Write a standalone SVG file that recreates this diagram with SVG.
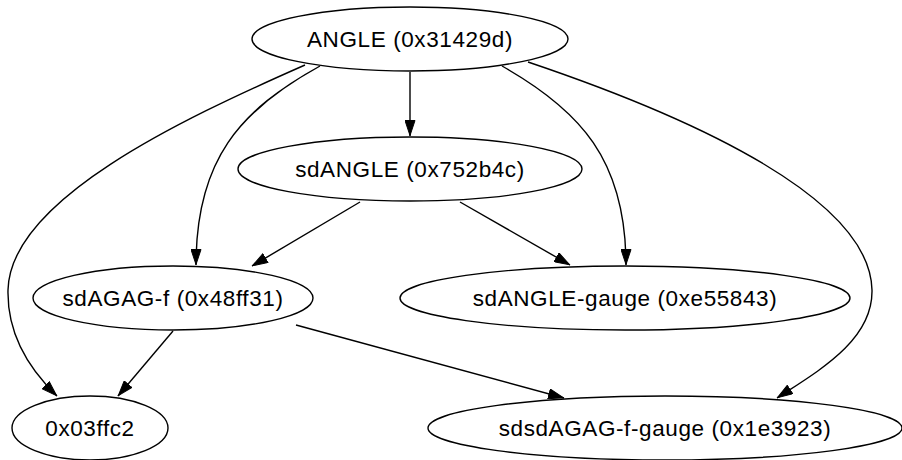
<svg xmlns="http://www.w3.org/2000/svg" width="902" height="460" viewBox="0 0 902 460">
<defs>
<style>
.node ellipse{fill:#fff;stroke:#000;stroke-width:1.4}
.node text{font-family:"Liberation Sans",Arial,sans-serif;font-size:22.5px;letter-spacing:0.6px;text-anchor:middle;fill:#000}
.edges path{fill:none;stroke:#000;stroke-width:1.4;marker-end:url(#arr)}
</style>
<marker id="arr" viewBox="0 0 16 11" refX="16" refY="5.5" markerWidth="16" markerHeight="11" markerUnits="userSpaceOnUse" orient="auto">
<path d="M0.5,0.5 L15.5,5.5 L0.5,10.5 z" fill="#000" stroke="#000"/>
</marker>
</defs>
<rect width="902" height="460" fill="#fff"/>
<g class="edges">
<path d="M410,72 L410,136"/>
<path d="M320,66 C240,110 196,160 196,265"/>
<path d="M305,65 C180,120 10,200 8,290 C7,335 30,370 57,396"/>
<path d="M502,66 C580,110 626,160 626,265"/>
<path d="M528,62 C700,120 870,200 872,290 C873,340 820,370 777,398"/>
<path d="M360,202 L252,266"/>
<path d="M460,202 L570,265"/>
<path d="M173,331 L118,396"/>
<path d="M296,325 L564,398"/>
</g>
<g id="n_angle" class="node"><ellipse cx="410" cy="39" rx="158" ry="32"/><text x="410" y="47">ANGLE (0x31429d)</text></g>
<g id="n_sdangle" class="node"><ellipse cx="410" cy="169" rx="172" ry="32"/><text x="410" y="177">sdANGLE (0x752b4c)</text></g>
<g id="n_sdagagf" class="node"><ellipse cx="173" cy="298" rx="140" ry="32"/><text x="173" y="306">sdAGAG-f (0x48ff31)</text></g>
<g id="n_sdanglegauge" class="node"><ellipse cx="625" cy="298" rx="225" ry="32"/><text x="625" y="306">sdANGLE-gauge (0xe55843)</text></g>
<g id="n_03ffc2" class="node"><ellipse cx="90" cy="428" rx="78" ry="32"/><text x="90" y="436">0x03ffc2</text></g>
<g id="n_sdsd" class="node"><ellipse cx="665" cy="428" rx="237" ry="32"/><text x="665" y="436">sdsdAGAG-f-gauge (0x1e3923)</text></g>
</svg>
